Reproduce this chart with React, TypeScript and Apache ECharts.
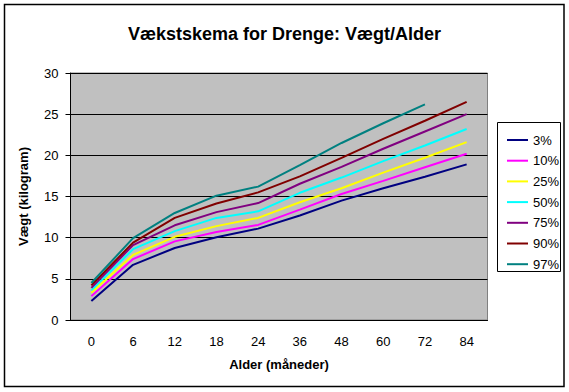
import React, { useEffect, useRef } from "react";
import * as echarts from "echarts";

const ages = ["0", "6", "12", "18", "24", "36", "48", "60", "72", "84"];
const p3 = [2.3, 6.7, 8.75, 10.05, 11.1, 12.7, 14.5, 16.0, 17.4, 18.9];
const p10 = [2.9, 7.4, 9.55, 10.7, 11.55, 13.4, 15.3, 16.9, 18.55, 20.2];
const p25 = [3.3, 7.9, 10.1, 11.4, 12.4, 14.3, 16.0, 17.9, 19.7, 21.6];
const p50 = [3.6, 8.6, 10.8, 12.4, 13.2, 15.45, 17.3, 19.3, 21.2, 23.2];
const p75 = [3.9, 9.1, 11.5, 13.1, 14.2, 16.55, 18.6, 20.8, 22.9, 25.0];
const p90 = [4.2, 9.4, 12.4, 14.15, 15.5, 17.45, 19.7, 22.0, 24.2, 26.5];
const p97 = [4.5, 9.94, 13.0, 15.1, 16.2, 18.8, 21.5, 23.9, 26.2, null];

const seriesNames = ["3%", "10%", "25%", "50%", "75%", "90%", "97%"];
const seriesData = [p3, p10, p25, p50, p75, p90, p97];
const seriesColors = ["#000080", "#FF00FF", "#FFFF00", "#00FFFF", "#800080", "#800000", "#008080"];

const FONT = "'Liberation Sans', Arial, sans-serif";

export default function App() {
  const ref = useRef<HTMLDivElement>(null);
  useEffect(() => {
    document.body.style.margin = "0";
    const chart = echarts.init(ref.current!, null, { renderer: "svg" });
    chart.setOption({
      animation: false,
      backgroundColor: "#ffffff",
      textStyle: { fontFamily: FONT },
      title: {
        text: "Vækstskema for Drenge: Vægt/Alder",
        left: "center",
        top: 20,
        textStyle: { fontFamily: FONT, fontSize: 18, fontWeight: "bold", color: "#000" },
      },
      graphic: [
        {
          type: "rect",
          shape: { x: 4.5, y: 4.5, width: 559.5, height: 382 },
          style: { fill: "none", stroke: "#000", lineWidth: 1.5 },
          silent: true,
          z: -1,
        },
        {
          type: "rect",
          shape: { x: 497.5, y: 122.5, width: 63, height: 149 },
          style: { fill: "#fff", stroke: "#000", lineWidth: 1 },
          silent: true,
          z: 0,
        },
      ],
      legend: {
        orient: "vertical",
        left: 502,
        top: 128,
        icon: "rect",
        itemWidth: 21,
        itemHeight: 2,
        itemGap: 6.7,
        textStyle: { fontFamily: FONT, fontSize: 13, color: "#000", lineHeight: 14 },
        data: seriesNames,
        z: 5,
      },
      grid: {
        left: 70.5,
        top: 73,
        width: 417,
        height: 247,
        show: true,
        backgroundColor: "#C0C0C0",
        borderColor: "#808080",
        borderWidth: 1,
      },
      xAxis: {
        type: "category",
        data: ages,
        boundaryGap: true,
        name: "Alder (måneder)",
        nameLocation: "middle",
        nameGap: 38,
        nameTextStyle: { fontFamily: FONT, fontSize: 13, fontWeight: "bold", color: "#000" },
        axisLine: { lineStyle: { color: "#000", width: 1 } },
        axisTick: { length: 5, lineStyle: { color: "#000" } },
        axisLabel: { fontFamily: FONT, fontSize: 13, color: "#000", margin: 15 },
        splitLine: { show: false },
      },
      yAxis: {
        type: "value",
        min: 0,
        max: 30,
        interval: 5,
        name: "Vægt (kilogram)",
        nameLocation: "middle",
        nameGap: 41,
        nameRotate: 90,
        nameTextStyle: { fontFamily: FONT, fontSize: 13, fontWeight: "bold", color: "#000" },
        axisLine: { show: true, lineStyle: { color: "#000", width: 1 } },
        axisTick: { show: true, length: 5, lineStyle: { color: "#000" } },
        axisLabel: { fontFamily: FONT, fontSize: 13, color: "#000", margin: 12 },
        splitLine: { lineStyle: { color: "#000", width: 1 } },
      },
      series: seriesNames.map((name, i) => ({
        name,
        type: "line",
        data: seriesData[i],
        showSymbol: false,
        symbol: "none",
        connectNulls: false,
        lineStyle: { color: seriesColors[i], width: 2 },
        itemStyle: { color: seriesColors[i] },
      })),
    });
    return () => chart.dispose();
  }, []);
  return <div ref={ref} style={{ width: 569, height: 392 }} />;
}
